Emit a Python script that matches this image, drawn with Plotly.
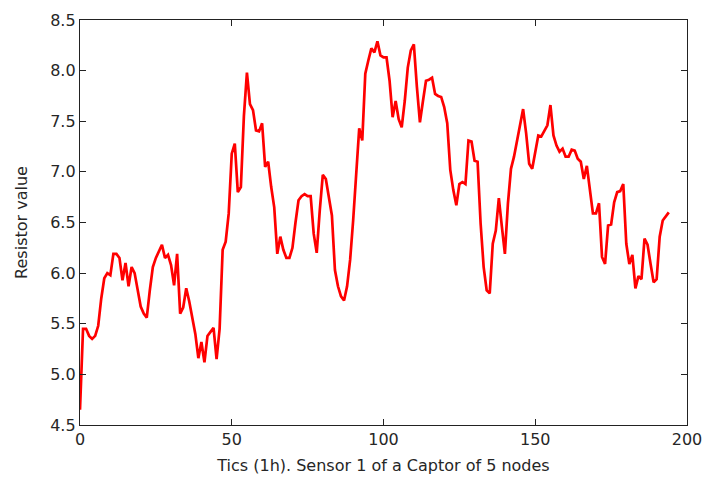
import plotly.graph_objects as go

# Hourly readings of sensor 1 (one tic = 1 h)
tics = list(range(195))
resistor = [
    4.65, 5.45, 5.45, 5.38, 5.35, 5.38, 5.48, 5.75, 5.95, 6.00,   # 0-9
    5.98, 6.19, 6.19, 6.15, 5.93, 6.10, 5.87, 6.06, 6.00, 5.83,   # 10-19
    5.67, 5.60, 5.56, 5.83, 6.06, 6.15, 6.21, 6.28, 6.15, 6.18,   # 20-29
    6.08, 5.88, 6.19, 5.60, 5.66, 5.85, 5.72, 5.55, 5.40, 5.16,   # 30-39
    5.32, 5.12, 5.38, 5.42, 5.46, 5.15, 5.45, 6.23, 6.31, 6.59,   # 40-49
    7.18, 7.28, 6.80, 6.85, 7.55, 7.98, 7.67, 7.61, 7.41, 7.40,   # 50-59
    7.48, 7.05, 7.10, 6.85, 6.65, 6.19, 6.36, 6.23, 6.15, 6.15,   # 60-69
    6.25, 6.50, 6.72, 6.76, 6.78, 6.76, 6.76, 6.39, 6.20, 6.62,   # 70-79
    6.97, 6.93, 6.76, 6.57, 6.03, 5.87, 5.77, 5.73, 5.87, 6.13,   # 80-89
    6.52, 7.02, 7.43, 7.31, 7.97, 8.10, 8.22, 8.18, 8.29, 8.15,   # 90-99
    8.13, 8.13, 7.90, 7.54, 7.70, 7.52, 7.44, 7.70, 8.03, 8.20,   # 100-109
    8.26, 7.84, 7.49, 7.70, 7.90, 7.91, 7.93, 7.77, 7.75, 7.74,   # 110-119
    7.64, 7.48, 7.02, 6.82, 6.67, 6.88, 6.90, 6.88, 7.31, 7.30,   # 120-129
    7.11, 7.10, 6.49, 6.06, 5.83, 5.80, 6.29, 6.42, 6.74, 6.46,   # 130-139
    6.19, 6.69, 7.03, 7.15, 7.30, 7.45, 7.62, 7.38, 7.08, 7.03,   # 140-149
    7.18, 7.36, 7.35, 7.41, 7.46, 7.66, 7.36, 7.26, 7.20, 7.23,   # 150-159
    7.15, 7.15, 7.22, 7.21, 7.13, 7.10, 6.93, 7.06, 6.85, 6.59,   # 160-169
    6.59, 6.69, 6.16, 6.09, 6.47, 6.48, 6.70, 6.80, 6.81, 6.88,   # 170-179
    6.29, 6.09, 6.18, 5.85, 5.97, 5.94, 6.34, 6.28, 6.09, 5.91,   # 180-189
    5.94, 6.36, 6.52, 6.56, 6.60,                                 # 190-194
]

x_ticks = [0, 50, 100, 150, 200]
y_ticks = [4.5, 5.0, 5.5, 6.0, 6.5, 7.0, 7.5, 8.0, 8.5]

font = dict(family="DejaVu Sans", size=16, color="#262626")

fig = go.Figure(
    go.Scatter(
        x=tics,
        y=resistor,
        mode="lines",
        line=dict(color="#ff0000", width=2.7),
        hoverinfo="skip",
    )
)

axis_common = dict(
    showline=True,
    linecolor="#222222",
    linewidth=1.3,
    mirror="ticks",
    ticks="inside",
    ticklen=6,
    tickwidth=1,
    tickcolor="#222222",
    showgrid=False,
    zeroline=False,
    automargin=False,
    tickfont=font,
)

fig.update_layout(
    width=705,
    height=481,
    margin=dict(l=80, r=18, t=20, b=56),
    paper_bgcolor="white",
    plot_bgcolor="white",
    showlegend=False,
    font=font,
    xaxis=dict(
        range=[0, 200],
        tickvals=x_ticks,
        ticktext=[str(v) for v in x_ticks],
        title=dict(text="Tics (1h). Sensor 1 of a Captor of 5 nodes", font=font, standoff=11),
        **axis_common,
    ),
    yaxis=dict(
        range=[4.5, 8.5],
        tickvals=y_ticks,
        ticktext=[f"{v:.1f}" for v in y_ticks],
        title=dict(text="Resistor value", font=font, standoff=18),
        **axis_common,
    ),
)

fig.write_html("out.html")
